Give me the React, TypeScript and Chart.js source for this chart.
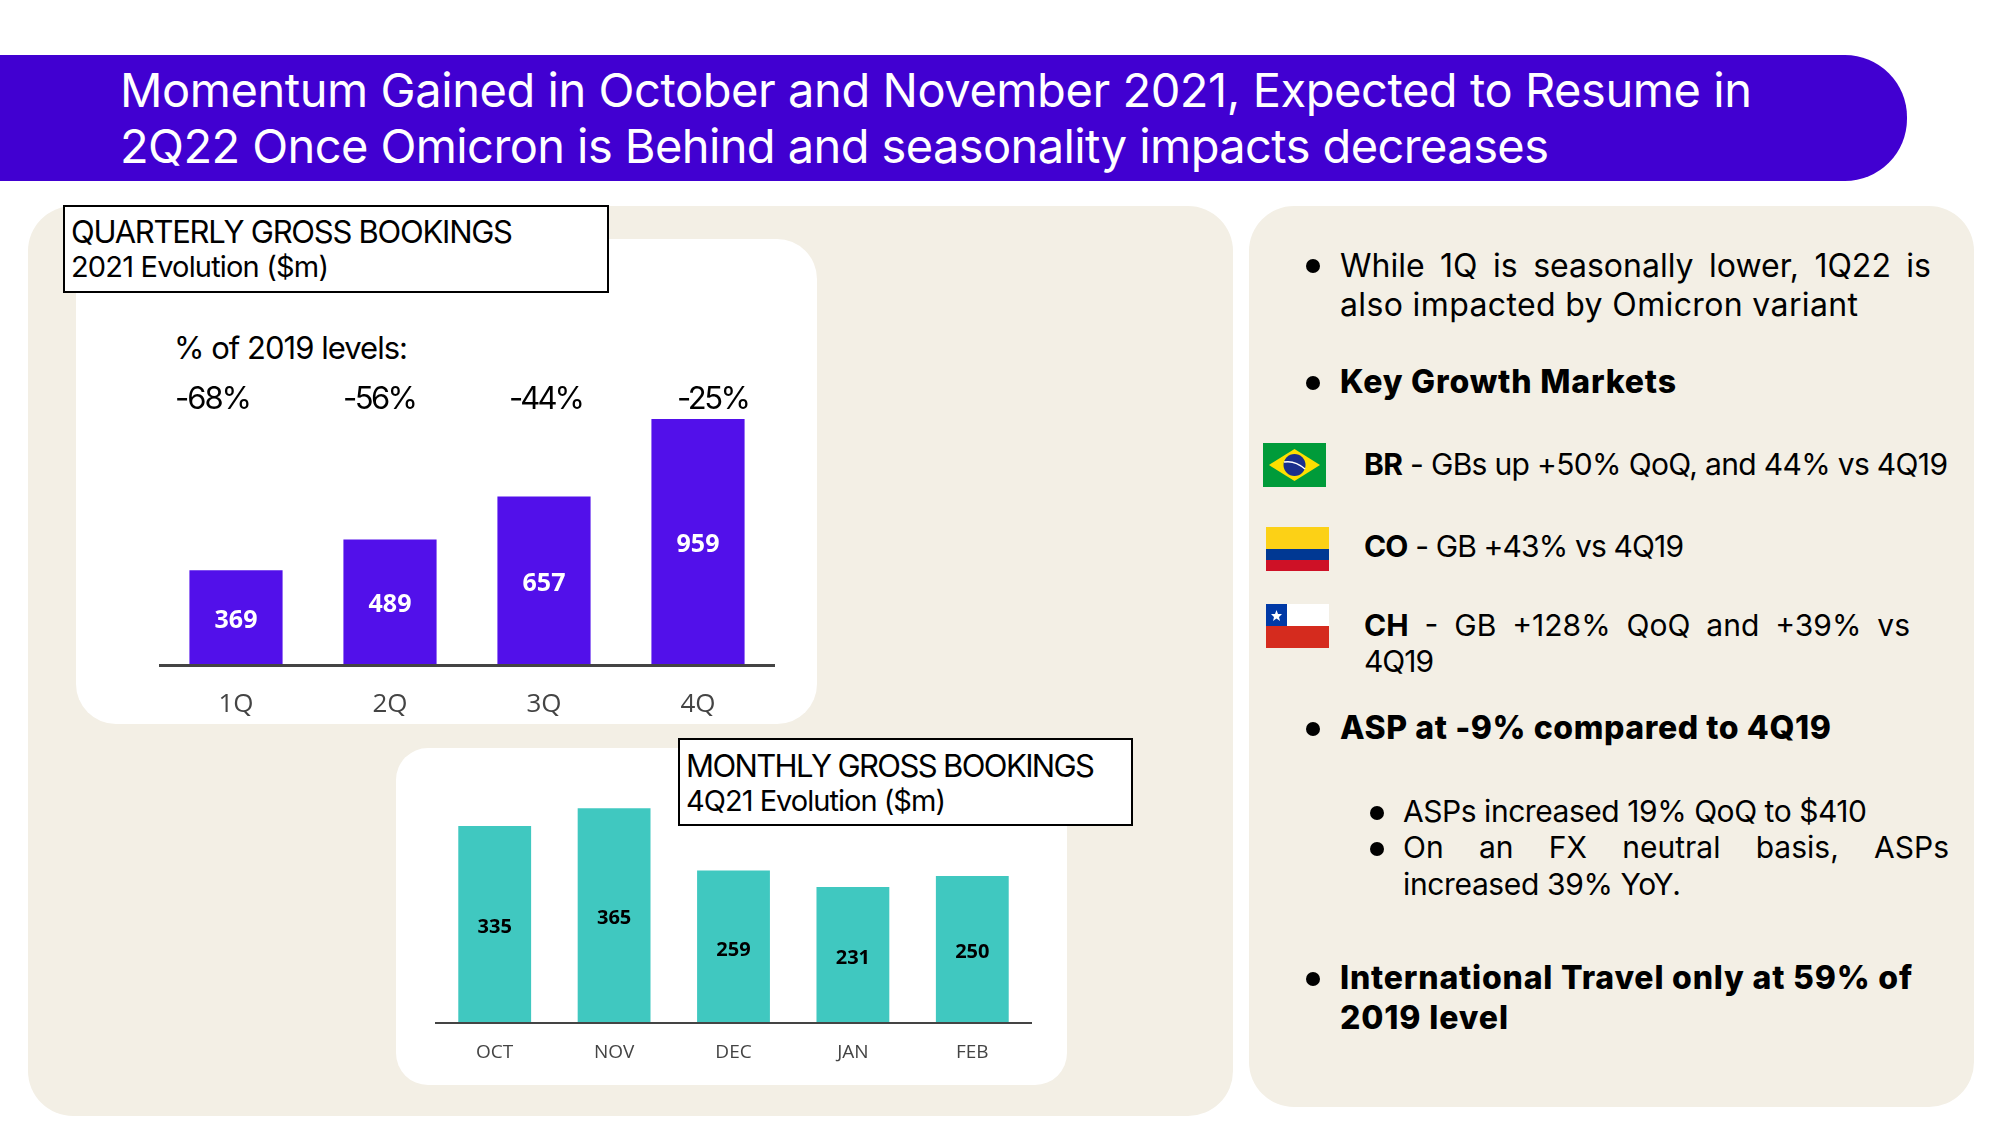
import React, { useEffect, useLayoutEffect, useRef } from "react";
import { Chart, registerables } from "chart.js";

Chart.register(...registerables);

const quarters = ["1Q", "2Q", "3Q", "4Q"];
const quarterlyValues = [369, 489, 657, 959];
const months = ["OCT", "NOV", "DEC", "JAN", "FEB"];
const monthlyValues = [335, 365, 259, 231, 250];
const pctLabels = ["-68%", "-56%", "-44%", "-25%"];

const TEXT_FONT = "Inter, sans-serif";
const CHART_FONT = "'Open Sans', sans-serif";

const valueLabels = {
  id: "valueLabels",
  afterDatasetsDraw(chart: any, _a: any, opts: any) {
    const { ctx } = chart;
    ctx.save();
    ctx.font = `${opts.weight} ${opts.size}px ${CHART_FONT}`;
    ctx.fillStyle = opts.color;
    ctx.textAlign = "center";
    ctx.textBaseline = "middle";
    chart.getDatasetMeta(0).data.forEach((bar: any, i: number) => {
      const y = (bar.y + bar.base) / 2 + 3;
      ctx.fillText(String(chart.data.datasets[0].data[i]), bar.x, y);
    });
    ctx.restore();
  },
};

function BarChart(props: {
  labels: string[]; values: number[]; color: string; max: number;
  left: number; top: number; width: number; height: number; axisH: number;
  lineW: number; tickSize: number; tickPad: number; valueSize: number; valueWeight: number; valueColor: string; barPct: number;
}) {
  const ref = useRef<HTMLCanvasElement>(null);
  useEffect(() => {
    const chart = new Chart(ref.current!, {
      type: "bar",
      data: {
        labels: props.labels,
        datasets: [{ data: props.values, backgroundColor: props.color, barPercentage: props.barPct, categoryPercentage: 1 }],
      },
      plugins: [valueLabels],
      options: {
        animation: false,
        responsive: false,
        layout: { padding: 0 },
        plugins: {
          legend: { display: false },
          tooltip: { enabled: false },
          valueLabels: { size: props.valueSize, weight: props.valueWeight, color: props.valueColor },
        } as any,
        scales: {
          x: {
            grid: { display: false, drawTicks: false },
            border: { display: true, color: "#444444", width: props.lineW, z: 1 },
            ticks: { color: "#444444", padding: props.tickPad, maxRotation: 0, font: { family: CHART_FONT, size: props.tickSize } },
            afterFit(scale: any) { scale.height = props.axisH; },
          },
          y: { display: false, min: 0, max: props.max },
        },
      },
    });
    return () => chart.destroy();
  }, []);
  return (
    <canvas ref={ref} width={props.width} height={props.height}
      style={{ position: "absolute", left: props.left, top: props.top, width: props.width, height: props.height }} />
  );
}

function Line(props: { x: number; w: number; cy: number; size: number; weight?: number; color?: string; justify?: boolean; children: React.ReactNode }) {
  const ref = useRef<HTMLDivElement>(null);
  useLayoutEffect(() => {
    const el = ref.current!;
    const natural = el.getBoundingClientRect().width;
    const text = el.textContent || "";
    if (props.justify) {
      const spaces = (text.match(/ /g) || []).length;
      if (spaces) el.style.wordSpacing = `${(props.w - natural) / spaces}px`;
    } else {
      el.style.letterSpacing = `${(props.w - natural) / (text.length - 1)}px`;
    }
  }, []);
  return (
    <div ref={ref} style={{
      position: "absolute", left: props.x, top: props.cy, transform: "translateY(-50%)",
      fontFamily: TEXT_FONT, fontSize: props.size, fontWeight: props.weight ?? 400, lineHeight: 1.2,
      color: props.color ?? "#000", whiteSpace: "pre",
    }}>{props.children}</div>
  );
}

const box = (l: number, t: number, r: number, b: number, bg: string, radius: number, extra: React.CSSProperties = {}): React.CSSProperties => ({
  position: "absolute", left: l, top: t, width: r - l, height: b - t, background: bg, borderRadius: radius, boxSizing: "border-box", ...extra,
});

function Bullet({ x, y, d = 14 }: { x: number; y: number; d?: number }) {
  return <div style={box(x - d / 2, y - d / 2, x + d / 2, y + d / 2, "#000", d)} />;
}

function LabelBox({ l, t, r, b }: { l: number; t: number; r: number; b: number }) {
  return <div style={box(l, t, r, b, "#fff", 0, { border: "2px solid #000" })} />;
}

export default function App() {
  useLayoutEffect(() => { document.body.style.margin = "0"; document.body.style.background = "#fff"; }, []);
  const PANEL = "#F3EFE5";
  const pctX: [number, number][] = [[175, 77], [343, 75], [509, 76], [677, 74]];
  return (
    <div style={{ position: "relative", width: 2000, height: 1125, overflow: "hidden", background: "#fff" }}>
      <div style={box(0, 55, 1907, 181, "#4100D1", 0, { borderRadius: "0 62px 62px 0" })} />
      <Line x={120} w={1632} cy={90} size={47} color="#fff">Momentum Gained in October and November 2021, Expected to Resume in</Line>
      <Line x={120} w={1429} cy={146} size={47} color="#fff">2Q22 Once Omicron is Behind and seasonality impacts decreases</Line>

      <div style={box(28, 206, 1233, 1116, PANEL, 45)} />
      <div style={box(1249, 206, 1974, 1107, PANEL, 45)} />
      <div style={box(76, 239, 817, 724, "#fff", 40)} />
      <div style={box(396, 748, 1067, 1085, "#fff", 32)} />

      <BarChart labels={quarters} values={quarterlyValues} color="#5210EA" max={1033}
        left={159} top={400} width={616} height={325} axisH={60} lineW={3}
        tickSize={26} tickPad={24} valueSize={25} valueWeight={700} valueColor="#fff" barPct={0.605} />
      <BarChart labels={months} values={monthlyValues} color="#40C8C0" max={396}
        left={435} top={790} width={597} height={283} axisH={50} lineW={2}
        tickSize={19} tickPad={18} valueSize={20} valueWeight={700} valueColor="#000" barPct={0.61} />

      <LabelBox l={63} t={205} r={609} b={293} />
      <Line x={71} w={442} cy={232} size={31}>QUARTERLY GROSS BOOKINGS</Line>
      <Line x={71} w={258} cy={267} size={29}>2021 Evolution ($m)</Line>
      <LabelBox l={678} t={738} r={1133} b={826} />
      <Line x={686} w={409} cy={766} size={31}>MONTHLY GROSS BOOKINGS</Line>
      <Line x={686} w={260} cy={801} size={29}>4Q21 Evolution ($m)</Line>

      <Line x={174} w={234} cy={348} size={31}>% of 2019 levels:</Line>
      {pctLabels.map((p, i) => (
        <Line key={p} x={pctX[i][0]} w={pctX[i][1]} cy={398} size={31}>{p}</Line>
      ))}

      <Bullet x={1313} y={266} />
      <Line x={1340} w={591} cy={266} size={32} justify>While 1Q is seasonally lower, 1Q22 is</Line>
      <Line x={1340} w={518} cy={305} size={32}>also impacted by Omicron variant</Line>
      <Bullet x={1313} y={383} />
      <Line x={1340} w={336} cy={382} size={32} weight={800}>Key Growth Markets</Line>

      <svg style={{ position: "absolute", left: 1263, top: 443 }} width={63} height={44} viewBox="0 0 63 44">
        <rect width="63" height="44" fill="#009B3A" />
        <polygon points="31.5,6 57,22 31.5,38 6,22" fill="#FEDF00" />
        <circle cx="31.5" cy="22" r="11" fill="#1A2F8C" />
        <path d="M21 19 Q32 17 42 26" stroke="#fff" strokeWidth="1.5" fill="none" />
      </svg>
      <Line x={1364} w={584} cy={464} size={30}><b>BR</b> - GBs up +50% QoQ, and 44% vs 4Q19</Line>

      <svg style={{ position: "absolute", left: 1266, top: 527 }} width={63} height={44} viewBox="0 0 63 44">
        <rect width="63" height="22" fill="#FCD116" />
        <rect y="22" width="63" height="11" fill="#003893" />
        <rect y="33" width="63" height="11" fill="#CE1126" />
      </svg>
      <Line x={1364} w={320} cy={546} size={30}><b>CO</b> - GB +43% vs 4Q19</Line>

      <svg style={{ position: "absolute", left: 1266, top: 604 }} width={63} height={44} viewBox="0 0 63 44">
        <rect width="63" height="22" fill="#fff" />
        <rect y="22" width="63" height="22" fill="#D52B1E" />
        <rect width="21" height="22" fill="#0039A6" />
        <polygon points="10.5,6 12,10 16,10 13,13 14,17 10.5,14.5 7,17 8,13 5,10 9,10" fill="#fff" />
      </svg>
      <Line x={1364} w={546} cy={625} size={30} justify><b>CH</b> - GB +128% QoQ and +39% vs</Line>
      <Line x={1364} w={70} cy={661} size={30}>4Q19</Line>

      <Bullet x={1313} y={729} />
      <Line x={1340} w={491} cy={728} size={32} weight={800}>ASP at -9% compared to 4Q19</Line>
      <Bullet x={1377} y={813} />
      <Line x={1403} w={464} cy={811} size={30}>ASPs increased 19% QoQ to $410</Line>
      <Bullet x={1377} y={849} />
      <Line x={1403} w={546} cy={847} size={30} justify>On an FX neutral basis, ASPs</Line>
      <Line x={1403} w={278} cy={884} size={30}>increased 39% YoY.</Line>
      <Bullet x={1313} y={979} />
      <Line x={1340} w={572} cy={978} size={32} weight={800}>International Travel only at 59% of</Line>
      <Line x={1340} w={168} cy={1018} size={32} weight={800}>2019 level</Line>
    </div>
  );
}
